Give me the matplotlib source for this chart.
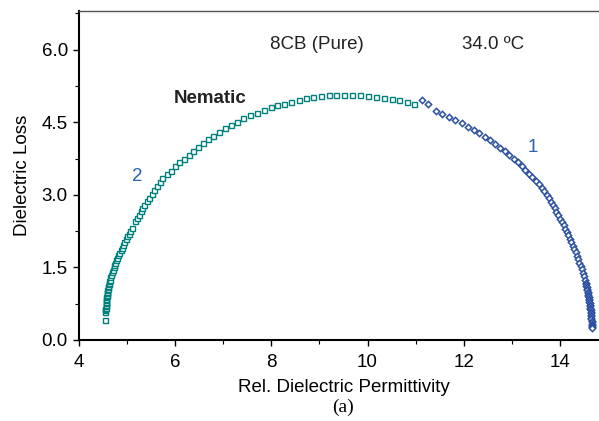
import matplotlib
matplotlib.use("Agg")
import matplotlib.pyplot as plt
from matplotlib.ticker import MultipleLocator, FormatStrFormatter

plt.rcParams['font.family'] = ['Liberation Sans', 'DejaVu Sans']

# relaxation 2 (open squares), low permittivity side of the arc
eps2 = [4.540, 4.545, 4.547, 4.549, 4.551, 4.553, 4.555, 4.558, 4.561, 4.564,
        4.567, 4.571, 4.575, 4.579, 4.583, 4.587, 4.592, 4.597, 4.602, 4.608,
        4.614, 4.621, 4.628, 4.640, 4.652, 4.667, 4.683, 4.700, 4.718, 4.737,
        4.757, 4.777, 4.798, 4.820, 4.842, 4.865, 4.888, 4.915, 4.945, 4.975,
        5.005, 5.035, 5.065, 5.095, 5.160, 5.200, 5.240, 5.280, 5.320, 5.360,
        5.405, 5.455, 5.510, 5.565, 5.620, 5.675, 5.735, 5.823, 5.913, 5.996,
        6.085, 6.177, 6.281, 6.376, 6.474, 6.578, 6.682, 6.792, 6.904, 7.029,
        7.154, 7.285, 7.416, 7.555, 7.694, 7.840, 7.985, 8.110, 8.262, 8.414,
        8.568, 8.713, 8.871, 9.031, 9.191, 9.349, 9.509, 9.676, 9.842, 10.015,
        10.175, 10.341, 10.501, 10.659, 10.813, 10.965]
loss2 = [0.42, 0.58, 0.61, 0.64, 0.67, 0.70, 0.73, 0.76, 0.79, 0.82,
         0.85, 0.88, 0.91, 0.94, 0.97, 1.00, 1.03, 1.06, 1.09, 1.12,
         1.15, 1.18, 1.21, 1.25, 1.30, 1.35, 1.40, 1.45, 1.50, 1.55,
         1.60, 1.65, 1.70, 1.75, 1.80, 1.85, 1.90, 1.96, 2.02, 2.08,
         2.14, 2.20, 2.26, 2.32, 2.45, 2.52, 2.59, 2.66, 2.73, 2.80,
         2.87, 2.94, 3.02, 3.10, 3.18, 3.26, 3.346, 3.429, 3.503, 3.586,
         3.669, 3.745, 3.828, 3.911, 3.993, 4.070, 4.144, 4.221, 4.304, 4.380,
         4.449, 4.511, 4.579, 4.641, 4.697, 4.753, 4.815, 4.856, 4.883, 4.918,
         4.951, 4.993, 5.022, 5.042, 5.055, 5.063, 5.063, 5.063, 5.055, 5.042,
         5.022, 5.001, 4.980, 4.951, 4.924, 4.883]

# relaxation 1 (open diamonds), high permittivity side
eps1 = [11.125, 11.262, 11.416, 11.553, 11.692, 11.823, 11.956, 12.081, 12.206, 12.322,
        12.435, 12.545, 12.649, 12.753, 12.850, 12.946, 13.037, 13.121, 13.204, 13.279,
        13.356, 13.424, 13.495, 13.557, 13.619, 13.674, 13.730, 13.770, 13.810, 13.850,
        13.890, 13.930, 13.970, 14.010, 14.045, 14.080, 14.115, 14.150, 14.180, 14.210,
        14.240, 14.270, 14.300, 14.330, 14.355, 14.380, 14.405, 14.430, 14.455, 14.475,
        14.495, 14.515, 14.535, 14.540, 14.550, 14.557, 14.565, 14.572, 14.580, 14.585,
        14.590, 14.595, 14.600, 14.605, 14.610, 14.615, 14.620, 14.625, 14.630, 14.633,
        14.636, 14.639, 14.642, 14.645, 14.648, 14.651, 14.654, 14.657, 14.660, 14.662,
        14.664, 14.666, 14.668, 14.669, 14.670]
loss1 = [4.951, 4.883, 4.724, 4.670, 4.600, 4.538, 4.476, 4.407, 4.339, 4.269,
         4.200, 4.124, 4.049, 3.973, 3.896, 3.822, 3.745, 3.669, 3.594, 3.517,
         3.441, 3.373, 3.296, 3.228, 3.151, 3.077, 3.000, 2.930, 2.860, 2.790,
         2.720, 2.650, 2.580, 2.510, 2.440, 2.370, 2.300, 2.230, 2.160, 2.090,
         2.020, 1.950, 1.880, 1.810, 1.740, 1.670, 1.600, 1.530, 1.460, 1.390,
         1.320, 1.250, 1.180, 1.150, 1.120, 1.090, 1.060, 1.030, 1.000, 0.970,
         0.940, 0.910, 0.880, 0.850, 0.820, 0.790, 0.760, 0.730, 0.700, 0.670,
         0.640, 0.610, 0.580, 0.550, 0.520, 0.490, 0.460, 0.430, 0.400, 0.370,
         0.340, 0.310, 0.280, 0.260, 0.240]

teal = '#00807c'
blue = '#2c50a2'
fs = 13.5

fig = plt.figure(figsize=(5.99, 4.21), dpi=100)
# axes run past the right edge (the original figure is cropped there)
ax = fig.add_axes([0.1319, 0.1924, 0.883, 0.7815])

ax.plot(eps2, loss2, ls='none', marker='s', ms=3.6, mfc='white', mec=teal, mew=1.0)
ax.plot(eps1, loss1, ls='none', marker='D', ms=3.2, mfc='white', mec=blue, mew=1.1)

ax.set_xlim(4, 15)
ax.set_ylim(0, 6.8)
ax.xaxis.set_major_locator(MultipleLocator(2))
ax.xaxis.set_minor_locator(MultipleLocator(1))
ax.yaxis.set_major_locator(MultipleLocator(1.5))
ax.yaxis.set_minor_locator(MultipleLocator(0.75))
ax.yaxis.set_major_formatter(FormatStrFormatter('%.1f'))
ax.tick_params(which='major', direction='out', length=4, width=1.0, labelsize=fs, pad=4)
ax.tick_params(axis='x', which='major', pad=6)
ax.tick_params(which='minor', direction='out', length=3, width=0.8)
ax.tick_params(top=False, right=False, which='both')

ax.spines['left'].set_linewidth(1.5)
ax.spines['bottom'].set_linewidth(1.5)
ax.spines['top'].set_color('#555555')
ax.spines['top'].set_linewidth(1.0)

ax.set_xlabel('Rel. Dielectric Permittivity', fontsize=fs, labelpad=6)
ax.set_ylabel('Dielectric Loss', fontsize=fs, labelpad=8)

ax.text(8.94, 6.10, '8CB (Pure)', fontsize=fs, ha='center', va='center', color='#222222')
ax.text(12.61, 6.10, '34.0 ºC', fontsize=fs, ha='center', va='center', color='#222222')
ax.text(6.72, 4.99, 'Nematic', fontsize=fs, fontweight='bold', ha='center', va='center', color='#222222')
ax.text(13.43, 3.97, '1', fontsize=fs, ha='center', va='center', color='#2a62b0')
ax.text(5.21, 3.37, '2', fontsize=fs, ha='center', va='center', color='#2a62b0')

fig.text(0.573, 0.032, '(a)', fontsize=14, family=['Liberation Serif', 'DejaVu Serif'],
         ha='center', va='center')

fig.savefig('out.png', dpi=100)
